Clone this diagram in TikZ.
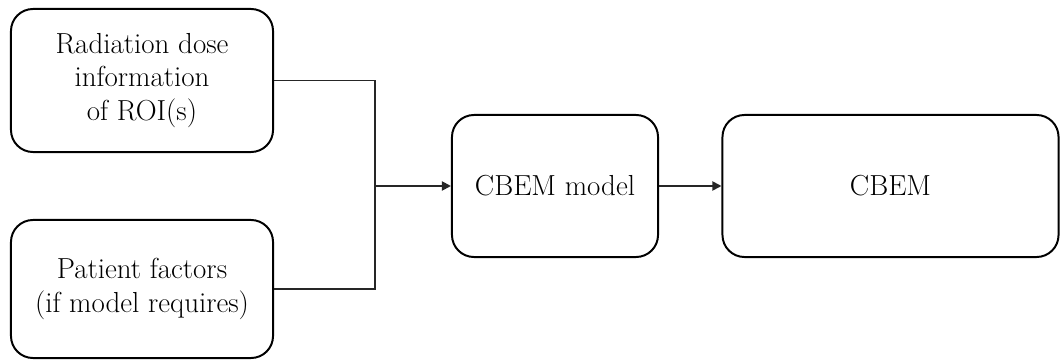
\documentclass[tikz,border=0pt]{standalone}
\usepackage{tikz}
\usetikzlibrary{arrows.meta}
\tikzset{
  blk/.style={draw,rounded corners=0.55cm,line width=1.4pt,align=center,
      font=\fontsize{20.6}{23.8}\selectfont,inner sep=0pt},
  link/.style={line width=1.3pt,draw=black!85},
  flow/.style={link,-{Triangle[length=6.5pt,width=6.5pt]}},
}
\begin{document}
\begin{tikzpicture}[x=0.025cm,y=-0.025cm]
  \useasboundingbox (0,0) rectangle (1062,360);

  \node[blk,minimum width=6.55cm,minimum height=3.575cm] (rad) at (142,80.5)
    {Radiation dose\\information\\of ROI(s)};
  \node[blk,minimum width=6.55cm,minimum height=3.45cm] (pat) at (142,289)
    {Patient factors\\(if model requires)};
  \node[blk,minimum width=5.15cm,minimum height=3.55cm] (model) at (555,186)
    {CBEM model};
  \node[blk,minimum width=8.4cm,minimum height=3.55cm] (cbem) at (890.5,186)
    {CBEM};

  \coordinate (join) at (375,186);
  \draw[link] (rad.east) -| (join);
  \draw[link] (pat.east) -| (join);
  \draw[flow] (join) -- (model);
  \draw[flow] (model) -- (cbem);
\end{tikzpicture}
\end{document}
